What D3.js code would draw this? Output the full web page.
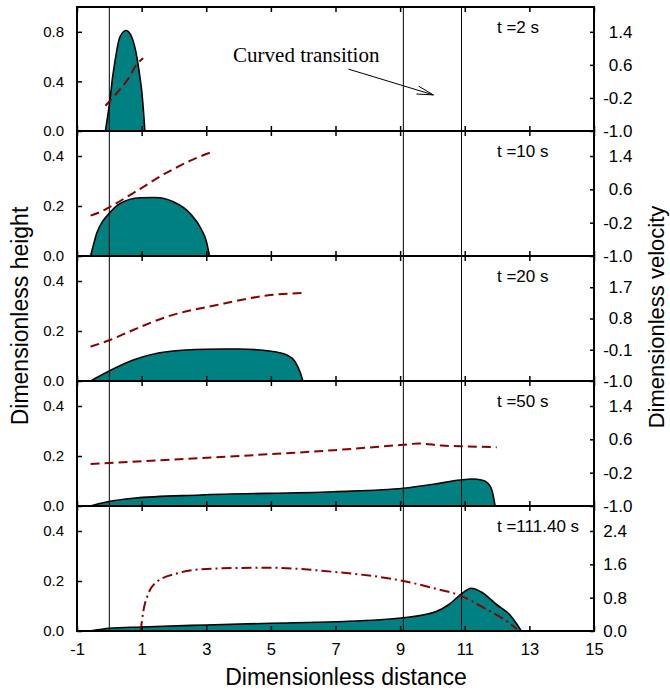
<!DOCTYPE html>
<html><head><meta charset="utf-8">
<script src="https://cdn.jsdelivr.net/npm/d3@7"></script>
<style>body{margin:0;background:#fff}svg{display:block}</style>
</head><body>
<script>
// ---- data ----
const timeLabels = ["t =2 s", "t =10 s", "t =20 s", "t =50 s", "t =111.40 s"];
const xTicks = [-1, 1, 3, 5, 7, 9, 11, 13, 15];
const heightDomains = [[0, 1.0], [0, 0.5], [0, 0.5], [0, 0.5], [0, 0.5]];
const heightTicks = [[0, 0.4, 0.8], [0, 0.2, 0.4], [0, 0.2, 0.4], [0, 0.2, 0.4], [0, 0.2, 0.4]];
const velDomains = [[-1, 2.0], [-1, 2.0], [-1, 2.6], [-1, 2.0], [0, 3.0]];
const velTicks = [[-1.0, -0.2, 0.6, 1.4], [-1.0, -0.2, 0.6, 1.4], [-1.0, -0.1, 0.8, 1.7], [-1.0, -0.2, 0.6, 1.4], [0.0, 0.8, 1.6, 2.4]];
const transitionLines = [0, 9.1, 10.9];

const height1 = [[-0.12,0],[-0.05,0.12],[0.02,0.25],[0.1,0.43],[0.18,0.57],[0.33,0.76],[0.52,0.81],[0.69,0.76],[0.85,0.6],[0.95,0.43],[1.0,0.33],[1.06,0.15],[1.1,0]];
const height2 = [[-0.58,0],[-0.5,0.04],[-0.39,0.091],[-0.2,0.14],[-0.05,0.164],[0.33,0.21],[0.95,0.233],[1.41,0.234],[1.98,0.217],[2.5,0.17],[2.86,0.104],[3.0,0.06],[3.1,0]];
const height3 = [[-0.58,0],[-0.3,0.02],[-0.05,0.037],[0.74,0.084],[1.78,0.117],[3.01,0.127],[4.0,0.128],[4.67,0.124],[5.2,0.115],[5.49,0.104],[5.75,0.077],[5.9,0.037],[5.99,0]];
const height4 = [[-0.58,0],[-0.3,0.01],[-0.05,0.017],[0.74,0.031],[2.81,0.044],[6.94,0.057],[9.1,0.071],[10.08,0.088],[10.86,0.104],[11.22,0.108],[11.55,0.103],[11.72,0.09],[11.84,0.064],[11.94,0]];
const height5 = [[-0.6,0],[-0.3,0.006],[0,0.011],[1,0.016],[3,0.024],[5,0.031],[7,0.037],[9.1,0.053],[10.1,0.077],[10.5,0.105],[10.86,0.144],[11.2,0.171],[11.5,0.157],[12.0,0.104],[12.4,0.064],[12.6,0.03],[12.75,0]];
const heights = [height1, height2, height3, height4, height5];

const vel1 = [[-0.12,-0.39],[0.1,-0.2],[0.3,-0.02],[0.5,0.17],[0.64,0.33],[0.79,0.55],[1.05,0.76]];
const vel2 = [[-0.58,-0.03],[-0.3,0.05],[-0.05,0.15],[0.74,0.51],[1.78,1.0],[2.6,1.32],[3.12,1.48]];
const vel3 = [[-0.58,-0.01],[0.02,0.18],[0.74,0.47],[1.78,0.85],[3.33,1.19],[4.87,1.46],[6.0,1.54]];
const vel4 = [[-0.58,0.01],[2.81,0.15],[6.94,0.34],[9.1,0.47],[9.57,0.5],[10.29,0.45],[11.11,0.43],[11.99,0.41]];
const vel5 = [[0.97,0],[1.05,0.46],[1.21,0.9],[1.47,1.18],[2.09,1.38],[3.0,1.49],[4.87,1.52],[6.94,1.42],[9.1,1.2],[10.08,1.02],[10.86,0.85],[11.63,0.54],[12.25,0.26],[12.61,0.05]];
const velocities = [vel1, vel2, vel3, vel4, vel5];

const annotationText = "Curved transition";
const annotationPos = [3.83, 0.56];
const arrowFrom = [7.40, 0.499];
const arrowTo = [10.03, 0.291];

// ---- layout ----
const W = 670, H = 690;
const left = 77, right = 594;
const panelTops = [7, 131, 256, 381, 506];
const panelBottoms = [131, 256, 381, 506, 631];
const teal = "#008080", red = "#8b0000";
const FONT = "Arial, 'Liberation Sans', sans-serif";
const fmt1 = d => d3.format(".1f")(d).replace("\u2212", "-");
const fmtD = d => d3.format("d")(d).replace("\u2212", "-");

const svg = d3.select("body").append("svg").attr("width", W).attr("height", H)
  .style("font-family", FONT);

const x = d3.scaleLinear().domain([-1, 15]).range([left, right]);

for (let i = 0; i < 5; i++) {
  const top = panelTops[i], bot = panelBottoms[i];
  const yH = d3.scaleLinear().domain(heightDomains[i]).range([bot, top]);
  const yV = d3.scaleLinear().domain(velDomains[i]).range([bot, top]);
  const g = svg.append("g");

  const area = d3.area().x(d => x(d[0])).y0(yH(0)).y1(d => yH(d[1])).curve(d3.curveMonotoneX);
  const line = d3.line().x(d => x(d[0])).y(d => yH(d[1])).curve(d3.curveMonotoneX);
  g.append("path").datum(heights[i]).attr("d", area).attr("fill", teal);
  g.append("path").datum(heights[i]).attr("d", line).attr("fill", "none").attr("stroke", "#000").attr("stroke-width", 1.6);

  transitionLines.forEach(v => {
    g.append("line").attr("x1", x(v)).attr("x2", x(v)).attr("y1", top).attr("y2", bot)
      .attr("stroke", "#000").attr("stroke-width", 1);
  });

  const vline = d3.line().x(d => x(d[0])).y(d => yV(d[1])).curve(d3.curveMonotoneX);
  g.append("path").datum(velocities[i]).attr("d", vline).attr("fill", "none")
    .attr("stroke", red).attr("stroke-width", 2)
    .attr("stroke-dasharray", i === 4 ? "10,4,2,4" : "9,5");

  const axL = d3.axisLeft(yH).tickValues(heightTicks[i]).tickSize(-5).tickPadding(13).tickFormat(fmt1);
  const axR = d3.axisRight(yV).tickValues(velTicks[i]).tickSize(-4).tickPadding(i === 4 ? 33 : 38.5).tickFormat(fmt1);
  const axT = d3.axisTop(x).tickValues(xTicks).tickSize(-5).tickFormat("");
  const axB = d3.axisBottom(x).tickValues(xTicks).tickSize(-5).tickPadding(12).tickFormat(i === 4 ? fmtD : "");

  const gl = g.append("g").attr("transform", `translate(${left},0)`).call(axL);
  const gr = g.append("g").attr("transform", `translate(${right},0)`).call(axR);
  gr.selectAll("text").attr("text-anchor", "end");
  g.append("g").attr("transform", `translate(0,${top})`).call(axT);
  const gb = g.append("g").attr("transform", `translate(0,${bot})`).call(axB);
  gl.selectAll("text").attr("font-size", 15);
  gr.selectAll("text").attr("font-size", 17);
  gb.selectAll("text").attr("font-size", 16.5);
  [gl, gr, gb].forEach(a => a.selectAll("text").attr("fill", "#000").style("font-family", FONT));
  g.selectAll(".domain").remove();
  g.selectAll(".tick line").attr("stroke", "#000").attr("stroke-width", 1.5);

  g.append("rect").attr("x", left).attr("y", top).attr("width", right - left).attr("height", bot - top)
    .attr("fill", "none").attr("stroke", "#000").attr("stroke-width", 2);

  g.append("text").attr("x", 497).attr("y", top + 26).attr("font-size", 17).text(timeLabels[i]);

  if (i === 0) {
    g.append("text").attr("x", x(annotationPos[0])).attr("y", yH(annotationPos[1]))
      .attr("font-family", "'Liberation Serif', 'Times New Roman', serif").attr("font-size", 21)
      .text(annotationText);
    const x1 = x(arrowFrom[0]), y1 = yH(arrowFrom[1]), x2 = x(arrowTo[0]), y2 = yH(arrowTo[1]);
    g.append("line").attr("x1", x1).attr("y1", y1).attr("x2", x2).attr("y2", y2).attr("stroke", "#000").attr("stroke-width", 1);
    const ang = Math.atan2(y2 - y1, x2 - x1);
    const hl = 17, ha = 0.24;
    const p = [[x2 - hl * Math.cos(ang - ha), y2 - hl * Math.sin(ang - ha)], [x2, y2], [x2 - hl * Math.cos(ang + ha), y2 - hl * Math.sin(ang + ha)]];
    g.append("path").attr("d", d3.line()(p)).attr("fill", "none").attr("stroke", "#000").attr("stroke-width", 1);
  }
}

svg.append("text").attr("x", 346).attr("y", 685).attr("text-anchor", "middle")
  .attr("font-size", 23).text("Dimensionless distance");
svg.append("text").attr("transform", "translate(28,316) rotate(-90)").attr("text-anchor", "middle")
  .attr("font-size", 23).text("Dimensionless height");
svg.append("text").attr("transform", "translate(664,317) rotate(-90)").attr("text-anchor", "middle")
  .attr("font-size", 22).text("Dimensionless velocity");
</script>
</body></html>
